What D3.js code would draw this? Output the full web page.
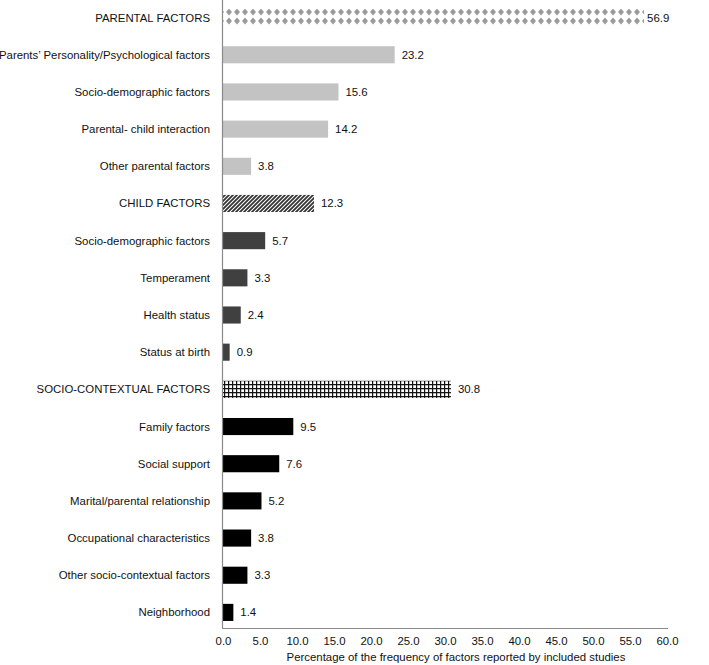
<!DOCTYPE html>
<html><head><meta charset="utf-8">
<script src="https://cdn.jsdelivr.net/npm/d3@7"></script>
<style>body{margin:0;background:#fff}svg{display:block}</style>
</head><body>
<script>
const categories = ["PARENTAL FACTORS","Parents\u2019 Personality/Psychological factors","Socio-demographic factors","Parental- child interaction","Other parental factors",
"CHILD FACTORS","Socio-demographic factors ","Temperament","Health status","Status at birth",
"SOCIO-CONTEXTUAL FACTORS","Family factors","Social support","Marital/parental relationship","Occupational characteristics","Other socio-contextual factors","Neighborhood"];
const values = [56.9,23.2,15.6,14.2,3.8,12.3,5.7,3.3,2.4,0.9,30.8,9.5,7.6,5.2,3.8,3.3,1.4];
const groups = ["pH","p","p","p","p","cH","c","c","c","c","sH","s","s","s","s","s","s"];
const xTicks = [0,5,10,15,20,25,30,35,40,45,50,55,60];
const xTitle = "Percentage of the frequency of factors reported by included studies";

const W=709,H=665;
const FONT="Liberation Sans, Arial, sans-serif", FS=11.4;
const svg=d3.select("body").append("svg").attr("width",W).attr("height",H);
const defs=svg.append("defs");
const pd=defs.append("pattern").attr("id","diam").attr("patternUnits","userSpaceOnUse").attr("width",8).attr("height",9).attr("y",-1).attr("x",1);
pd.append("rect").attr("width",8).attr("height",9).attr("fill","#fff");
pd.append("path").attr("d","M4,0.5 L7,4 L4,7.5 L1,4 Z").attr("fill","#9a9a9a");
const ph=defs.append("pattern").attr("id","hatch").attr("patternUnits","userSpaceOnUse").attr("width",4).attr("height",4);
ph.append("rect").attr("width",4).attr("height",4).attr("fill","#fff");
ph.append("path").attr("d","M-1,1 L1,-1 M0,4 L4,0 M3,5 L5,3").attr("stroke","#333").attr("stroke-width",1.8);
const pg=defs.append("pattern").attr("id","grid").attr("patternUnits","userSpaceOnUse").attr("width",4).attr("height",4);
pg.append("rect").attr("width",4).attr("height",4).attr("fill","#fff");
pg.append("path").attr("d","M0,0.5 H4 M0.5,0 V4").attr("stroke","#111").attr("stroke-width",1.4);

const fills={pH:"url(#diam)",p:"#c3c3c3",cH:"url(#hatch)",c:"#404040",sH:"url(#grid)",s:"#000"};

const x=d3.scaleLinear().domain([0,60]).range([223,667]);
const y=d3.scaleBand().domain(d3.range(categories.length)).range([-1,631]).paddingInner(0.54).paddingOuter(0.27);

const g=svg.append("g");
g.selectAll("rect.bar").data(values).join("rect").attr("class","bar")
 .attr("x",x(0)).attr("y",(d,i)=>y(i)).attr("width",d=>x(d)-x(0)).attr("height",y.bandwidth())
 .attr("fill",(d,i)=>fills[groups[i]]);
g.selectAll("text.val").data(values).join("text").attr("class","val")
 .attr("x",d=>x(d)+(d>50?3:7)).attr("y",(d,i)=>y(i)+y.bandwidth()/2).attr("dy","0.35em")
 .attr("font-family",FONT).attr("font-size",FS).attr("fill","#111")
 .text(d=>d.toFixed(1));
g.selectAll("text.cat").data(categories).join("text").attr("class","cat")
 .attr("x",210).attr("y",(d,i)=>y(i)+y.bandwidth()/2).attr("dy","0.35em").attr("text-anchor","end")
 .attr("font-family",FONT).attr("font-size",FS).attr("fill","#111")
 .text(d=>d.trim());
svg.append("line").attr("x1",222.5).attr("x2",222.5).attr("y1",0).attr("y2",628).attr("stroke","#8a8a8a").attr("stroke-width",1.2);
const ax=svg.append("g").attr("transform","translate(0,628)")
 .call(d3.axisBottom(x).tickValues(xTicks).tickFormat(d=>d.toFixed(1)).tickSize(0).tickPadding(9));
ax.select(".domain").attr("stroke","#8a8a8a").attr("stroke-width",1.2).attr("d","M222,0.5H668");
ax.selectAll("text").attr("font-family",FONT).attr("font-size",FS).attr("fill","#111");
svg.append("text").attr("x",456).attr("y",661).attr("text-anchor","middle")
 .attr("font-family",FONT).attr("font-size",FS).attr("fill","#111").text(xTitle);
</script>
</body></html>
